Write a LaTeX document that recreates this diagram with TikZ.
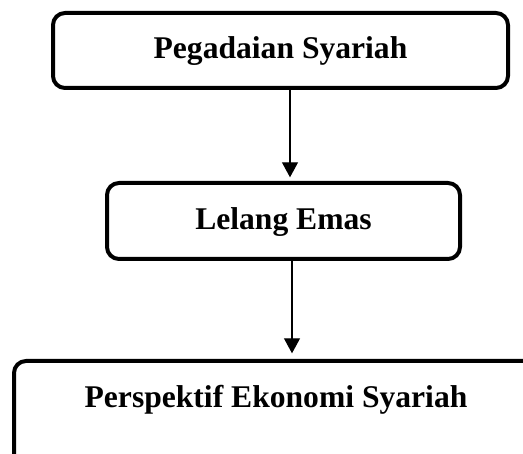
\documentclass[tikz,border=0pt]{standalone}
\usepackage{fontspec}
\setmainfont{Liberation Serif}
\usetikzlibrary{arrows.meta}
\begin{document}
\begin{tikzpicture}[x=1pt,y=-1pt,
  flowbox/.style={draw=black, line width=4pt, rounded corners=12pt, fill=white,
    font=\fontsize{31.6}{38}\selectfont\bfseries, align=center,
    text height=25pt, text depth=8pt, inner sep=0pt},
  flowarrow/.style={draw=black, line width=1.2pt, -{Triangle[width=16pt,length=15pt]}}]
\useasboundingbox (0,0) rectangle (523,454);
\clip (0,0) rectangle (523,454);
\fill[white] (0,0) rectangle (523,454);
\node[flowbox, minimum width=455pt, minimum height=75pt] (top) at (280.5,50.5) {Pegadaian Syariah};
\node[flowbox, minimum width=353pt, minimum height=76pt] (mid) at (283.5,221) {Lelang Emas};
\node[flowbox, minimum width=524pt, minimum height=119pt, text depth=50pt] (bot) at (276,420.5) {Perspektif Ekonomi Syariah};
\draw[flowarrow, shorten >=3.7pt] ([xshift=9.5pt]top.south) -- ([xshift=9.5pt]top.south |- mid.north);
\draw[flowarrow, shorten >=5.7pt] ([xshift=8.5pt]mid.south) -- ([xshift=8.5pt]mid.south |- bot.north);
\end{tikzpicture}
\end{document}
